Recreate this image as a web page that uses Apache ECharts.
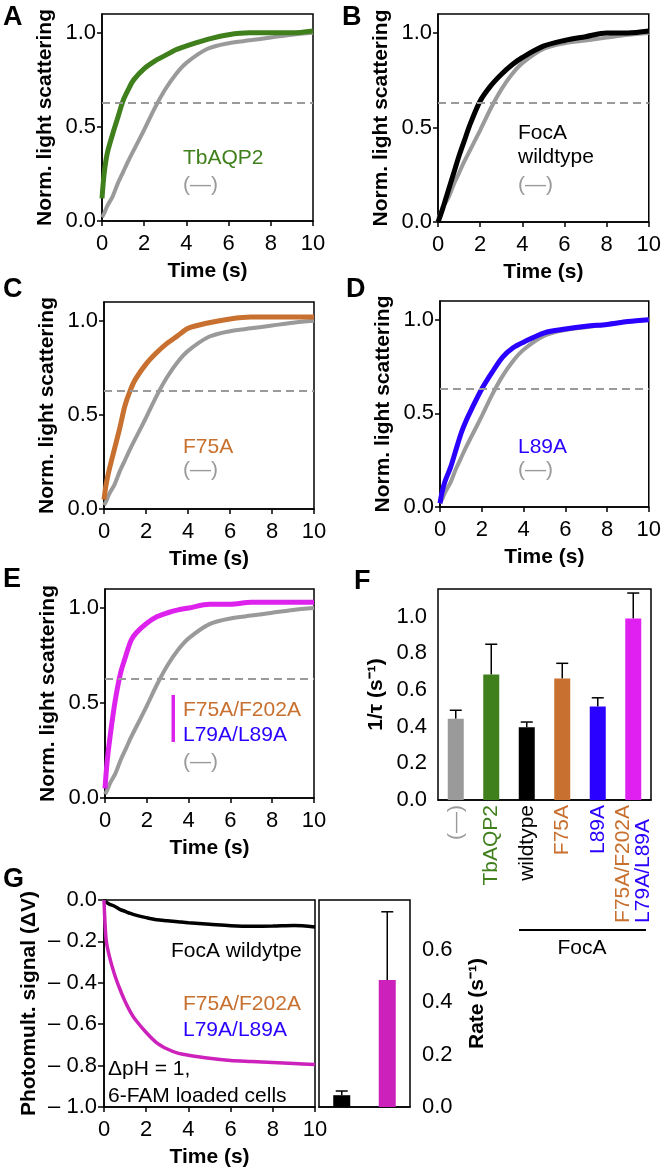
<!DOCTYPE html>
<html>
<head>
<meta charset="utf-8">
<script src="https://cdn.jsdelivr.net/npm/echarts@6/dist/echarts.min.js"></script>
<style>
  body { margin: 0; background: #fff; }
  #main { width: 664px; height: 1173px; }
</style>
</head>
<body>
<div id="main"></div>
<script>
var T = [0, 0.1, 0.25, 0.5, 0.75, 1, 1.25, 1.5, 2, 2.5, 3, 3.5, 4, 5, 6, 7, 8, 9, 10];
// normalised light scattering, panels A-E
var ctrl    = [0.02, 0.04, 0.08, 0.13, 0.2, 0.26, 0.32, 0.375, 0.485, 0.6, 0.7, 0.78, 0.84, 0.915, 0.945, 0.96, 0.975, 0.99, 1.0];
var tbaqp2  = [0.12, 0.25, 0.36, 0.46, 0.55, 0.64, 0.7, 0.75, 0.81, 0.85, 0.88, 0.91, 0.93, 0.965, 0.99, 1.0, 1.0, 1.0, 1.01];
var wt      = [0.0, 0.03, 0.08, 0.17, 0.26, 0.35, 0.43, 0.51, 0.64, 0.72, 0.78, 0.83, 0.87, 0.93, 0.96, 0.98, 1.0, 1.0, 1.01];
var f75a    = [0.05, 0.13, 0.21, 0.32, 0.43, 0.55, 0.63, 0.69, 0.77, 0.83, 0.88, 0.92, 0.96, 0.99, 1.01, 1.02, 1.02, 1.02, 1.02];
var l89a    = [0.02, 0.08, 0.14, 0.21, 0.3, 0.39, 0.46, 0.52, 0.63, 0.72, 0.8, 0.85, 0.88, 0.93, 0.95, 0.965, 0.975, 0.99, 1.0];
var dbl     = [0.05, 0.19, 0.33, 0.52, 0.66, 0.75, 0.83, 0.87, 0.92, 0.955, 0.975, 0.99, 1.0, 1.02, 1.02, 1.03, 1.03, 1.03, 1.03];
// photomultiplier signal (ΔV), panel G
var gWt     = [0, -0.01, -0.02, -0.03, -0.045, -0.055, -0.065, -0.073, -0.085, -0.095, -0.1, -0.105, -0.11, -0.117, -0.124, -0.127, -0.126, -0.123, -0.13];
var gDbl    = [0, -0.19, -0.27, -0.36, -0.43, -0.49, -0.54, -0.58, -0.64, -0.69, -0.72, -0.74, -0.75, -0.765, -0.775, -0.78, -0.785, -0.79, -0.795];
// panel F: 1/tau
var fCats   = ['(—)', 'TbAQP2', 'wildtype', 'F75A', 'L89A', 'F75A/F202A\nL79A/L89A'];
var fMean   = [0.443, 0.684, 0.396, 0.662, 0.509, 0.989];
var fErr    = [0.046, 0.165, 0.029, 0.083, 0.048, 0.139];
// panel G bars: rate
var gCats   = ['FocA wildtype', 'F75A/F202A L79A/L89A'];
var gMean   = [0.045, 0.485];
var gErr    = [0.016, 0.26];
var tauLine = 0.632;

var FONT = '"Liberation Sans", Arial, sans-serif';
var GRAY = '#9a9a9a', GREEN = '#3f7f1c', ORANGE = '#c8702f', BLUE = '#2a00ff',
    MAG = '#dd22ee', MAGF = '#e020f0', MAGG = '#cc22bb';
var fColors = [GRAY, GREEN, '#000', ORANGE, BLUE, MAGF];
var TICKFS = 22;

function pairs(v) { return T.map(function (t, i) { return [t, v[i]]; }); }

var myChart = echarts.init(document.getElementById('main'));

var grids = [
  {left: 102, top: 14, width: 211, height: 207},
  {left: 438, top: 14, width: 213, height: 208},
  {left: 104, top: 302, width: 210, height: 207},
  {left: 440, top: 301, width: 212, height: 206},
  {left: 105, top: 589, width: 209, height: 209},
  {left: 438, top: 589, width: 213, height: 211},
  {left: 104, top: 900, width: 211, height: 207},
  {left: 319, top: 900, width: 91, height: 207}
].map(function (g) {
  g.show = true; g.borderColor = '#000'; g.borderWidth = 1.5; g.backgroundColor = 'transparent';
  return g;
});

var axLine = {onZero: false, lineStyle: {color: '#000', width: 1.5}};
var nameStyle = {color: '#000', fontSize: 21, fontWeight: 'bold', fontFamily: FONT};

function timeX(gi) {
  return {
    type: 'value', gridIndex: gi, min: 0, max: 10, interval: 2,
    axisLine: axLine,
    axisTick: {length: 5, lineStyle: {color: '#000', width: 1.5}},
    axisLabel: {color: '#000', fontSize: TICKFS, fontFamily: FONT, margin: 12},
    splitLine: {show: false},
    name: 'Time (s)', nameLocation: 'middle', nameGap: 40, nameTextStyle: nameStyle
  };
}
function scatY(gi) {
  return {
    type: 'value', gridIndex: gi, min: 0, max: 1.1,
    axisLine: axLine,
    axisTick: {length: 5, customValues: [0, 0.5, 1], lineStyle: {color: '#000', width: 1.5}},
    axisLabel: {color: '#000', fontSize: TICKFS, fontFamily: FONT, margin: 6, customValues: [0, 0.5, 1],
      formatter: function (v) { return v.toFixed(1); }},
    splitLine: {show: false},
    name: 'Norm. light scattering', nameLocation: 'middle', nameGap: 46, nameTextStyle: nameStyle
  };
}

var xAxes = [timeX(0), timeX(1), timeX(2), timeX(3), timeX(4)];
var yAxes = [scatY(0), scatY(1), scatY(2), scatY(3), scatY(4)];

var richF = {};
fColors.forEach(function (c, i) {
  richF['c' + i] = {color: c, fontSize: 21, fontFamily: FONT, align: 'left', lineHeight: 20};
});
xAxes.push({
  type: 'category', gridIndex: 5, data: fCats,
  axisLine: axLine, axisTick: {show: false},
  axisLabel: {
    rotate: 90, margin: 5, interval: 0, rich: richF,
    formatter: function (v, i) {
      if (v.indexOf('\n') >= 0) {
        var p = v.split('\n');
        return '{c3|' + p[0] + '}\n{c4|' + p[1] + '}';
      }
      return '{c' + i + '|' + v + '}';
    }
  }
});
yAxes.push({
  type: 'value', gridIndex: 5, min: 0, max: 1.15,
  axisLine: axLine,
  axisTick: {length: 7, customValues: [0, 0.2, 0.4, 0.6, 0.8, 1.0], lineStyle: {color: '#000', width: 1.5}},
  axisLabel: {color: '#000', fontSize: TICKFS, fontFamily: FONT, margin: 11, customValues: [0, 0.2, 0.4, 0.6, 0.8, 1.0],
    formatter: function (v) { return v.toFixed(1); }},
  splitLine: {show: false},
  name: '1/τ (s⁻¹)', nameLocation: 'middle', nameGap: 51, nameTextStyle: nameStyle
});

xAxes.push(timeX(6));
yAxes.push({
  type: 'value', gridIndex: 6, min: -1, max: 0, interval: 0.2,
  axisLine: axLine,
  axisTick: {length: 6, lineStyle: {color: '#000', width: 1.5}},
  axisLabel: {color: '#000', fontSize: TICKFS, fontFamily: FONT, margin: 7,
    formatter: function (v) { return v < 0 ? '– ' + Math.abs(v).toFixed(1) : v.toFixed(1); }},
  splitLine: {show: false},
  name: 'Photomult. signal (ΔV)', nameLocation: 'middle', nameGap: 64, nameTextStyle: nameStyle
});

xAxes.push({
  type: 'category', gridIndex: 7, data: gCats,
  axisLine: axLine, axisTick: {show: false}, axisLabel: {show: false}
});
yAxes.push({
  type: 'value', gridIndex: 7, position: 'right', min: 0, max: 0.79,
  axisLine: axLine,
  axisTick: {length: 6, customValues: [0, 0.2, 0.4, 0.6], lineStyle: {color: '#000', width: 1.5}},
  axisLabel: {color: '#000', fontSize: TICKFS, fontFamily: FONT, margin: 12, customValues: [0, 0.2, 0.4, 0.6],
    formatter: function (v) { return v.toFixed(1); }},
  splitLine: {show: false},
  name: 'Rate (s⁻¹)', nameLocation: 'middle', nameGap: 57, nameTextStyle: nameStyle
});

function trace(gi, v, color, width, withTau) {
  var s = {
    type: 'line', xAxisIndex: gi, yAxisIndex: gi, data: pairs(v),
    showSymbol: false, smooth: 0.3, silent: true,
    lineStyle: {color: color, width: width}
  };
  if (withTau) {
    s.markLine = {
      silent: true, symbol: 'none', label: {show: false},
      lineStyle: {color: GRAY, type: [8, 5], width: 2},
      data: [{yAxis: tauLine}]
    };
  }
  return s;
}

function errItem(params, api) {
  var x = api.value(0), m = api.value(1), e = api.value(2);
  var p0 = api.coord([x, m]);
  var p1 = api.coord([x, m + e]);
  var hw = 6;
  return {type: 'group', children: [
    {type: 'line', shape: {x1: p0[0], y1: p0[1], x2: p1[0], y2: p1[1]}, style: {stroke: '#000', lineWidth: 1.5}},
    {type: 'line', shape: {x1: p1[0] - hw, y1: p1[1], x2: p1[0] + hw, y2: p1[1]}, style: {stroke: '#000', lineWidth: 1.5}}
  ]};
}

var series = [
  trace(0, ctrl, GRAY, 4, true), trace(0, tbaqp2, GREEN, 5),
  trace(1, ctrl, GRAY, 4, true), trace(1, wt, '#000', 5),
  trace(2, ctrl, GRAY, 4, true), trace(2, f75a, ORANGE, 5),
  trace(3, ctrl, GRAY, 4, true), trace(3, l89a, BLUE, 5),
  trace(4, ctrl, GRAY, 4, true), trace(4, dbl, MAG, 5),
  {
    type: 'custom', xAxisIndex: 5, yAxisIndex: 5, renderItem: errItem, z: 1,
    data: fMean.map(function (m, i) { return [i, m, fErr[i]]; })
  },
  {
    type: 'bar', xAxisIndex: 5, yAxisIndex: 5, barWidth: 16, z: 2,
    data: fMean.map(function (m, i) { return {value: m, itemStyle: {color: fColors[i]}}; })
  },
  trace(6, gWt, '#000', 3.5),
  trace(6, gDbl, MAGG, 3.5),
  {
    type: 'custom', xAxisIndex: 7, yAxisIndex: 7, renderItem: errItem, z: 1,
    data: gMean.map(function (m, i) { return [i, m, gErr[i]]; })
  },
  {
    type: 'bar', xAxisIndex: 7, yAxisIndex: 7, barWidth: 17, z: 2,
    data: gMean.map(function (m, i) { return {value: m, itemStyle: {color: i === 0 ? '#000' : MAGG}}; })
  }
];

function txt(x, y, s, color, size, weight, align) {
  return {
    type: 'text', x: x, y: y, silent: true,
    style: {text: s, fill: color || '#000', font: (weight || 'normal') + ' ' + (size || 21) + 'px ' + FONT,
      textAlign: align || 'left', textVerticalAlign: 'middle', verticalAlign: 'middle'}
  };
}

var graphics = [
  txt(3, 18, 'A', '#000', 27, 'bold'), txt(342, 18, 'B', '#000', 27, 'bold'),
  txt(3, 290, 'C', '#000', 27, 'bold'), txt(346, 290, 'D', '#000', 27, 'bold'),
  txt(3, 580, 'E', '#000', 27, 'bold'), txt(354, 582, 'F', '#000', 27, 'bold'),
  txt(3, 880, 'G', '#000', 27, 'bold'),
  txt(183, 158, 'TbAQP2', GREEN), txt(183, 185, '(—)', GRAY),
  txt(518, 133, 'FocA', '#000'), txt(518, 157, 'wildtype', '#000'), txt(518, 185, '(—)', GRAY),
  txt(183, 447, 'F75A', ORANGE), txt(183, 470, '(—)', GRAY),
  txt(518, 447, 'L89A', BLUE), txt(518, 470, '(—)', GRAY),
  {type: 'rect', silent: true, shape: {x: 171.5, y: 695, width: 3.5, height: 47}, style: {fill: MAG}},
  txt(183, 710, 'F75A/F202A', ORANGE), txt(183, 735, 'L79A/L89A', BLUE), txt(183, 762, '(—)', GRAY),
  {type: 'line', silent: true, shape: {x1: 519, y1: 930, x2: 646, y2: 930}, style: {stroke: '#000', lineWidth: 2}},
  txt(582, 948, 'FocA', '#000', 21, 'normal', 'center'),
  txt(171, 951, 'FocA wildytpe', '#000'),
  txt(183, 1004, 'F75A/F202A', ORANGE), txt(183, 1030, 'L79A/L89A', BLUE),
  txt(108, 1069, 'ΔpH = 1,', '#000'), txt(108, 1096, '6-FAM loaded cells', '#000')
];

var option = {
  backgroundColor: '#fff',
  animation: false,
  textStyle: {fontFamily: FONT},
  grid: grids,
  xAxis: xAxes,
  yAxis: yAxes,
  series: series,
  graphic: graphics
};
myChart.setOption(option);
</script>
</body>
</html>
